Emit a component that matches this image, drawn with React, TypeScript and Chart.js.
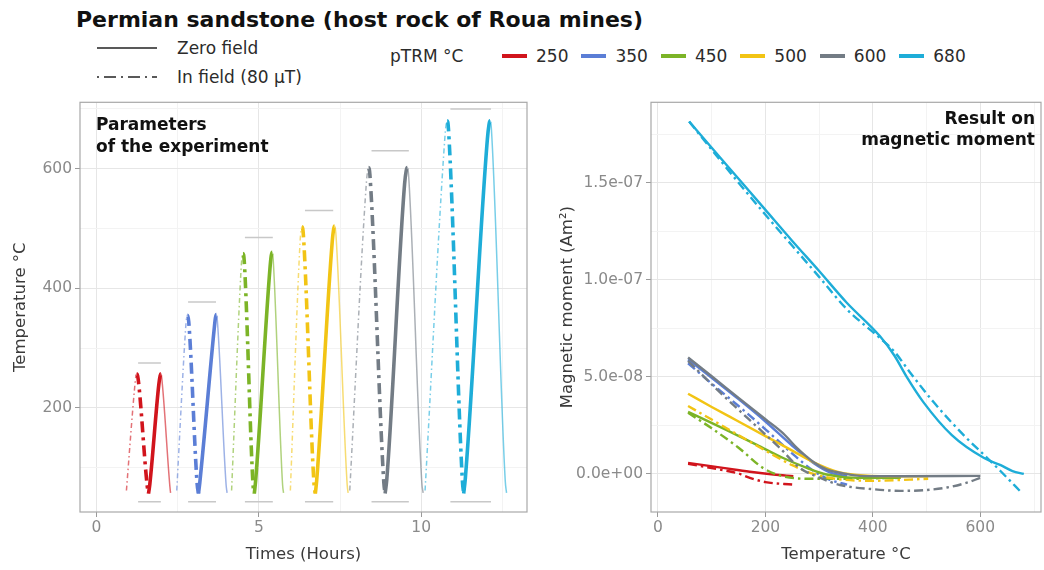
import React, { useEffect, useRef } from 'react';
import { Chart, registerables } from 'chart.js';

Chart.register(...registerables);

const FONT = '"DejaVu Sans", "Noto Sans", sans-serif';

// pTRM steps and their colours
const pTRMSteps = ['250', '350', '450', '500', '600', '680'];
const stepColors = ['#D1141C', '#5B7ED6', '#7CB427', '#F2C414', '#737C85', '#1EADD8'];

// Thermal cycles: [time (hours), oven temperature (°C)]
// in-field run (heating then cooling)
const inField250 = [[0.92, 62], [1.17, 232], [1.21, 252], [1.24, 257], [1.28, 249], [1.56, 70], [1.6, 57]];
const inField350 = [[2.47, 62], [2.74, 330], [2.77, 350], [2.8, 355], [2.84, 344], [3.1, 72], [3.14, 57]];
const inField450 = [[4.16, 62], [4.45, 430], [4.48, 452], [4.51, 458], [4.55, 445], [4.82, 72], [4.86, 57]];
const inField500 = [[5.97, 62], [6.27, 478], [6.3, 497], [6.33, 503], [6.37, 490], [6.7, 72], [6.74, 57]];
const inField600 = [[7.8, 62], [8.31, 575], [8.35, 596], [8.38, 602], [8.42, 590], [8.85, 75], [8.89, 57]];
const inField680 = [[10.12, 62], [10.73, 652], [10.77, 674], [10.8, 680], [10.84, 667], [11.27, 78], [11.31, 57]];
// zero-field run (heating then cooling)
const zeroField250 = [[1.6, 57], [1.64, 72], [1.92, 240], [1.96, 254], [1.98, 257], [2.01, 249], [2.26, 68], [2.28, 58]];
const zeroField350 = [[3.14, 57], [3.18, 75], [3.62, 330], [3.66, 350], [3.69, 356], [3.72, 347], [3.99, 72], [4.02, 58]];
const zeroField450 = [[4.86, 57], [4.9, 78], [5.34, 432], [5.38, 454], [5.41, 460], [5.44, 449], [5.73, 72], [5.76, 58]];
const zeroField500 = [[6.74, 57], [6.78, 78], [7.26, 478], [7.3, 498], [7.33, 504], [7.37, 493], [7.72, 72], [7.75, 58]];
const zeroField600 = [[8.89, 57], [8.94, 80], [9.49, 575], [9.54, 597], [9.57, 602], [9.61, 591], [10.02, 75], [10.06, 58]];
const zeroField680 = [[11.31, 57], [11.36, 82], [12.04, 650], [12.09, 674], [12.12, 680], [12.16, 669], [12.59, 78], [12.63, 58]];

const inFieldCycles = [inField250, inField350, inField450, inField500, inField600, inField680];
const zeroFieldCycles = [zeroField250, zeroField350, zeroField450, zeroField500, zeroField600, zeroField680];

// Grey marks bracketing each step (hours, °C)
const markStart = [1.28, 2.82, 4.57, 6.42, 8.47, 10.9];
const markEnd = [1.98, 3.68, 5.43, 7.29, 9.62, 12.15];
const markTop = [275, 377, 485, 530, 630, 700];
const markBottom = 43;

// Magnetic moment (x 1e-8 Am²) against temperature (°C)
const zeroMoment250 = [[56, 0.57], [121, 0.31], [171, 0.11], [215, -0.03], [252, -0.11]];
const inMoment250 = [[56, 0.52], [110, 0.25], [150, 0.02], [171, -0.2], [200, -0.42], [252, -0.55]];
const zeroMoment350 = [[56, 5.9], [100, 4.95], [150, 3.85], [200, 2.7], [250, 1.45], [290, 0.55], [320, 0.08], [352, -0.12]];
const inMoment350 = [[56, 5.7], [100, 4.65], [150, 3.5], [200, 2.3], [250, 1.05], [290, 0.15], [320, -0.3], [352, -0.55]];
const zeroMoment450 = [[56, 3.2], [128, 2.26], [184, 1.5], [233, 0.82], [277, 0.31], [314, -0.03], [370, -0.2], [452, -0.2]];
const inMoment450 = [[56, 3.15], [100, 2.35], [150, 1.35], [196, 0.3], [230, -0.1], [280, -0.25], [350, -0.25], [452, -0.2]];
const zeroMoment500 = [[56, 4.13], [100, 3.45], [150, 2.7], [200, 1.95], [250, 1.2], [290, 0.6], [330, 0.15], [370, -0.05], [430, -0.12], [503, -0.12]];
const inMoment500 = [[56, 3.5], [100, 2.8], [150, 2.0], [200, 1.2], [250, 0.45], [290, 0.0], [330, -0.25], [400, -0.35], [503, -0.25]];
const zeroMoment600 = [[56, 6.0], [100, 5.03], [150, 3.92], [200, 2.82], [233, 2.09], [260, 1.3], [290, 0.6], [314, 0.23], [350, 0.0], [376, -0.1], [450, -0.12], [600, -0.1]];
const inMoment600 = [[56, 5.82], [115, 4.21], [171, 2.77], [227, 1.33], [264, 0.31], [302, -0.2], [339, -0.57], [402, -0.79], [451, -0.87], [495, -0.84], [538, -0.7], [575, -0.45], [600, -0.2]];
const zeroMoment680 = [[58, 18.15], [100, 16.8], [150, 15.2], [200, 13.6], [250, 12.0], [300, 10.45], [351, 8.83], [413, 7.1], [440, 6.1], [463, 5.0], [494, 3.7], [547, 2.0], [607, 0.82], [638, 0.45], [660, 0.15], [681, 0.0]];
const inMoment680 = [[58, 18.15], [100, 16.7], [150, 15.0], [200, 13.35], [250, 11.75], [300, 10.15], [351, 8.5], [413, 7.0], [440, 6.3], [470, 5.2], [513, 3.7], [569, 2.0], [613, 0.82], [638, 0.14], [678, -1.0]];

const zeroMoments = [zeroMoment250, zeroMoment350, zeroMoment450, zeroMoment500, zeroMoment600, zeroMoment680];
const inMoments = [inMoment250, inMoment350, inMoment450, inMoment500, inMoment600, inMoment680];

// Axis ticks and grid positions
const timeTicks = [0, 5, 10];
const timeGrid = [0, 2.5, 5, 7.5, 10, 12.5];
const ovenTicks = [200, 400, 600];
const ovenGrid = [100, 200, 300, 400, 500, 600, 700];
const tempTicks = [0, 200, 400, 600];
const tempGrid = [0, 100, 200, 300, 400, 500, 600, 700];
const momentTicks = [0, 5e-8, 1e-7, 1.5e-7];
const momentTickLabels = ['0.0e+00', '5.0e-08', '1.0e-07', '1.5e-07'];
const momentGrid = [0, 2.5e-8, 5e-8, 7.5e-8, 1e-7, 1.25e-7, 1.5e-7, 1.75e-7];

const TICK_COLOR = '#8a8a8a';
const TITLE_COLOR = '#3a3a3a';
const thickDash = [11, 5, 3, 5];
const thinDash = [5, 3, 1.5, 3];
const momentDash = [9, 4, 2.5, 4];

function withAlpha(hex: string, a: number) {
  const n = parseInt(hex.slice(1), 16);
  return `rgba(${(n >> 16) & 255},${(n >> 8) & 255},${n & 255},${a})`;
}

const panelBorder = {
  id: 'panelBorder',
  afterDatasetsDraw(chart: any) {
    const { ctx, chartArea: a } = chart;
    ctx.save();
    ctx.strokeStyle = '#a8a8a8';
    ctx.lineWidth = 1.2;
    ctx.setLineDash([]);
    ctx.strokeRect(a.left, a.top, a.right - a.left, a.bottom - a.top);
    ctx.restore();
  },
};

function axis(opts: {
  min: number; max: number; grid: number[]; majors: number[]; labels: (v: number) => string;
  size: number; horizontal: boolean; title: string; titlePad: any;
}) {
  return {
    type: 'linear',
    min: opts.min,
    max: opts.max,
    afterBuildTicks: (s: any) => {
      s.ticks = opts.grid.map((v) => ({ value: v }));
    },
    afterFit: (s: any) => {
      if (opts.horizontal) s.height = opts.size;
      else s.width = opts.size;
    },
    border: { display: false },
    grid: {
      color: (c: any) => (c.tick && opts.majors.includes(c.tick.value) ? '#e6e6e6' : '#f3f3f3'),
      lineWidth: 1,
      tickLength: 5,
      tickColor: (c: any) => (c.tick && opts.majors.includes(c.tick.value) ? '#9a9a9a' : 'rgba(0,0,0,0)'),
    },
    ticks: {
      autoSkip: false,
      maxRotation: 0,
      padding: opts.horizontal ? 2 : 3,
      color: TICK_COLOR,
      font: { family: FONT, size: 15.5 },
      callback: (v: number) => (opts.majors.includes(v) ? opts.labels(v) : ''),
    },
    title: {
      display: true,
      text: opts.title,
      color: TITLE_COLOR,
      font: { family: FONT, size: 16.5 },
      padding: opts.titlePad,
    },
  };
}

function cycleDataset(path: number[][], color: string, heatingThick: boolean, dashed: boolean) {
  const peakTime = path.reduce((best, p) => (p[1] > best[1] ? p : best))[0];
  const light = withAlpha(color, 0.6);
  const thick = (t: number) => (t < peakTime) === heatingThick;
  return {
    data: path.map(([x, y]) => ({ x, y })),
    borderColor: color,
    borderWidth: 3.6,
    borderDash: dashed ? thickDash : [],
    cubicInterpolationMode: 'monotone',
    pointRadius: 0,
    segment: {
      borderWidth: (c: any) => (thick(c.p0.parsed.x) ? 3.6 : 1.5),
      borderColor: (c: any) => (thick(c.p0.parsed.x) ? color : light),
      borderDash: (c: any) => (dashed ? (thick(c.p0.parsed.x) ? thickDash : thinDash) : []),
    },
  };
}

function markDataset(x0: number, x1: number, y: number) {
  return {
    data: [{ x: x0, y }, { x: x1, y }],
    borderColor: '#c8c8c8',
    borderWidth: 1.5,
    pointRadius: 0,
  };
}

function momentDataset(points: number[][], color: string, dashed: boolean) {
  return {
    data: points.map(([t, m]) => ({ x: t, y: m * 1e-8 })),
    borderColor: color,
    borderWidth: 2.4,
    borderDash: dashed ? momentDash : [],
    cubicInterpolationMode: 'monotone',
    pointRadius: 0,
  };
}

function cycleConfig() {
  const datasets: any[] = [];
  pTRMSteps.forEach((_, i) => {
    datasets.push(cycleDataset(inFieldCycles[i], stepColors[i], false, true));
    datasets.push(cycleDataset(zeroFieldCycles[i], stepColors[i], true, false));
  });
  pTRMSteps.forEach((_, i) => {
    datasets.push(markDataset(markStart[i], markEnd[i], markTop[i]));
    datasets.push(markDataset(markStart[i], markEnd[i], markBottom));
  });
  return {
    type: 'line',
    data: { datasets },
    options: {
      responsive: false,
      animation: false,
      devicePixelRatio: 1,
      layout: { padding: { top: 8, right: 8, left: 0, bottom: 0 } },
      plugins: { legend: { display: false }, tooltip: { enabled: false } },
      scales: {
        x: axis({
          min: -0.51, max: 13.26, grid: timeGrid, majors: timeTicks, labels: (v) => String(v),
          size: 58, horizontal: true, title: 'Times (Hours)', titlePad: { top: 0, bottom: 5 },
        }),
        y: axis({
          min: 26, max: 711, grid: ovenGrid, majors: ovenTicks, labels: (v) => String(v),
          size: 80, horizontal: false, title: 'Temperature °C', titlePad: { top: 11, bottom: 0 },
        }),
      },
    },
    plugins: [panelBorder],
  };
}

function momentConfig() {
  const datasets: any[] = [];
  pTRMSteps.forEach((_, i) => {
    datasets.push(momentDataset(zeroMoments[i], stepColors[i], false));
    datasets.push(momentDataset(inMoments[i], stepColors[i], true));
  });
  datasets.reverse();
  return {
    type: 'line',
    data: { datasets },
    options: {
      responsive: false,
      animation: false,
      devicePixelRatio: 1,
      layout: { padding: { top: 8, right: 3, left: 0, bottom: 0 } },
      plugins: { legend: { display: false }, tooltip: { enabled: false } },
      scales: {
        x: axis({
          min: -13, max: 713, grid: tempGrid, majors: tempTicks, labels: (v) => String(v),
          size: 58, horizontal: true, title: 'Temperature °C', titlePad: { top: 0, bottom: 5 },
        }),
        y: axis({
          min: -1.96e-8, max: 1.914e-7, grid: momentGrid, majors: momentTicks,
          labels: (v) => momentTickLabels[momentTicks.indexOf(v)],
          size: 116, horizontal: false, title: 'Magnetic moment (Am²)', titlePad: { top: 23, bottom: 0 },
        }),
      },
    },
    plugins: [panelBorder],
  };
}

function ChartCanvas(props: { left: number; top: number; width: number; height: number; make: () => any }) {
  const ref = useRef<HTMLCanvasElement>(null);
  useEffect(() => {
    const chart = new Chart(ref.current as HTMLCanvasElement, props.make());
    return () => chart.destroy();
  }, []);
  return (
    <canvas
      ref={ref}
      width={props.width}
      height={props.height}
      style={{ position: 'absolute', left: props.left, top: props.top, width: props.width, height: props.height }}
    />
  );
}

const textBase: React.CSSProperties = { position: 'absolute', fontFamily: FONT, whiteSpace: 'nowrap', margin: 0 };

export default function App() {
  return (
    <div style={{ position: 'absolute', left: 0, top: 0, width: 1044, height: 570, background: '#fff', overflow: 'hidden' }}>
      <div style={{ ...textBase, left: 76, top: 7, fontSize: 22, lineHeight: '26px', fontWeight: 'bold', color: '#111' }}>
        Permian sandstone (host rock of Roua mines)
      </div>

      <svg width={1044} height={100} style={{ position: 'absolute', left: 0, top: 0 }}>
        <line x1={97} y1={48} x2={157} y2={48} stroke="#595959" strokeWidth={2} />
        <line x1={97} y1={77} x2={157} y2={77} stroke="#595959" strokeWidth={2} strokeDasharray="2 5 12 5" />
      </svg>
      <div style={{ ...textBase, left: 177, top: 38, fontSize: 17, lineHeight: '20px', color: '#2b2b2b' }}>Zero field</div>
      <div style={{ ...textBase, left: 177, top: 67, fontSize: 17, lineHeight: '20px', color: '#2b2b2b' }}>In field (80 µT)</div>
      <div style={{ ...textBase, left: 390, top: 46, fontSize: 17, lineHeight: '20px', color: '#2b2b2b' }}>pTRM °C</div>
      <div style={{ position: 'absolute', left: 502, top: 46, height: 20, display: 'flex', alignItems: 'center' }}>
        {pTRMSteps.map((s, i) => (
          <React.Fragment key={s}>
            <span style={{ display: 'inline-block', width: 25, height: 4, background: stepColors[i], marginRight: 9 }} />
            <span style={{ fontFamily: FONT, fontSize: 17, lineHeight: '20px', color: '#2b2b2b', marginRight: 13 }}>{s}</span>
          </React.Fragment>
        ))}
      </div>

      <ChartCanvas left={0} top={90} width={535} height={480} make={cycleConfig} />
      <ChartCanvas left={535} top={90} width={509} height={480} make={momentConfig} />

      <div style={{ ...textBase, left: 96, top: 113, fontSize: 17, lineHeight: '22px', fontWeight: 'bold', color: '#111' }}>
        Parameters<br />of the experiment
      </div>
      <div style={{ ...textBase, right: 9, top: 108, fontSize: 17, lineHeight: '21px', fontWeight: 'bold', color: '#111', textAlign: 'right' }}>
        Result on<br />magnetic moment
      </div>
    </div>
  );
}
